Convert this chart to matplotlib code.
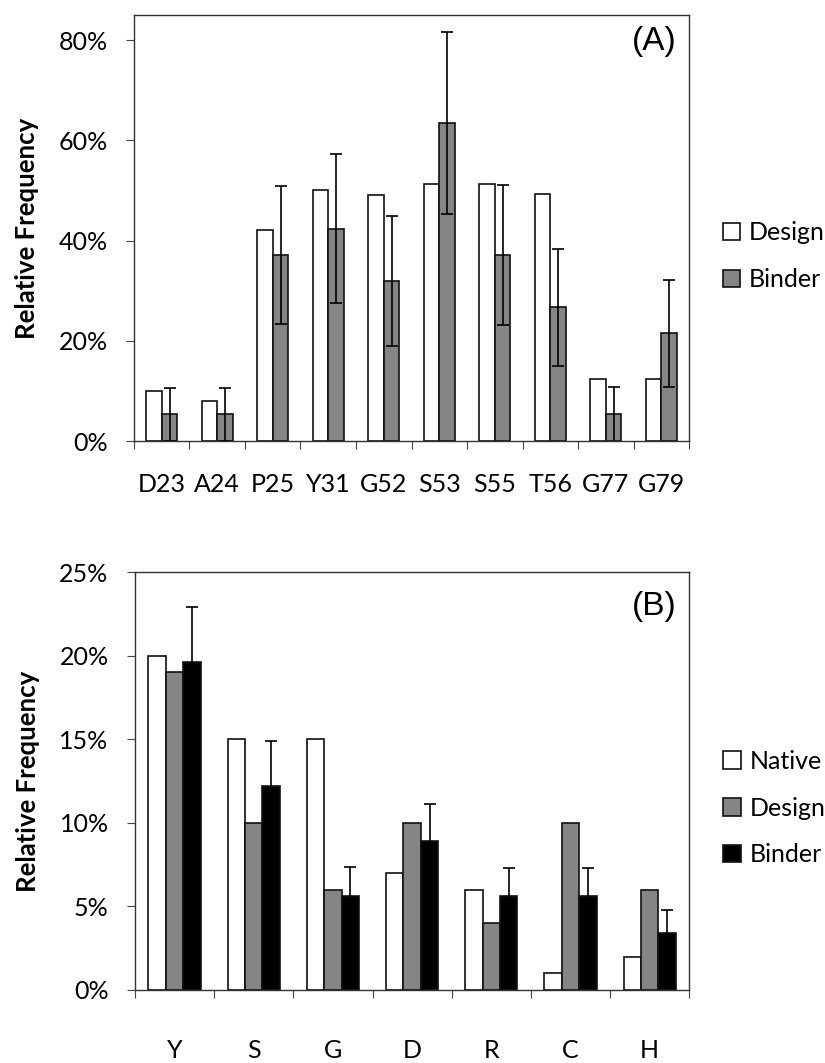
import numpy as np
import matplotlib
matplotlib.use("Agg")
import matplotlib.pyplot as plt
from matplotlib.ticker import FixedLocator, PercentFormatter

plt.rcParams["font.family"] = ["Lato", "DejaVu Sans"]

# ---- panel A: per-position frequencies
sites = ["D23", "A24", "P25", "Y31", "G52", "S53", "S55", "T56", "G77", "G79"]
a_design = [0.100, 0.080, 0.421, 0.501, 0.491, 0.513, 0.513, 0.493, 0.124, 0.124]
a_binder = [0.053, 0.053, 0.371, 0.424, 0.319, 0.634, 0.371, 0.267, 0.053, 0.215]
a_err = [0.052, 0.052, 0.138, 0.149, 0.129, 0.182, 0.140, 0.117, 0.055, 0.107]

# ---- panel B: amino-acid composition
residues = ["Y", "S", "G", "D", "R", "C", "H"]
b_native = [0.20, 0.15, 0.15, 0.07, 0.06, 0.01, 0.02]
b_design = [0.19, 0.10, 0.06, 0.10, 0.04, 0.10, 0.06]
b_binder = [0.196, 0.122, 0.056, 0.089, 0.056, 0.056, 0.034]
b_err = [0.033, 0.027, 0.0175, 0.0225, 0.017, 0.017, 0.014]

GRAY = "#858585"
EDGE = "#111111"
FS = 18

fig = plt.figure(figsize=(8.25, 10.63), dpi=100)
axA = fig.add_axes([0.1624, 0.5851, 0.6728, 0.4008])
axB = fig.add_axes([0.1636, 0.0687, 0.6719, 0.3932])


def style(ax, labels, ymax, ystep, xpad):
    n = len(labels)
    ax.set_xlim(-0.5, n - 0.5)
    ax.set_ylim(0, ymax)
    ax.set_xticks(range(n))
    ax.set_xticklabels(labels)
    ax.xaxis.set_minor_locator(FixedLocator(np.arange(-0.5, n, 1.0)))
    ax.tick_params(axis="x", which="major", length=0, pad=xpad, labelsize=FS)
    ax.tick_params(axis="x", which="minor", length=6, width=0.8, color="#444",
                   direction="out")
    ax.set_yticks(np.arange(0, ymax + 1e-9, ystep))
    ax.yaxis.set_major_formatter(PercentFormatter(1.0, decimals=0))
    ax.tick_params(axis="y", length=6, width=0.8, color="#444", pad=13,
                   labelsize=FS)
    for s in ax.spines.values():
        s.set_color("#333")
        s.set_linewidth(1.0)
    ax.set_ylabel("Relative Frequency", fontsize=18.5, fontweight="bold", labelpad=14)


leg_kw = dict(loc="center left", frameon=False, fontsize=FS, handlelength=0.7,
              handleheight=0.7, handletextpad=0.35, labelspacing=0.95,
              borderaxespad=0)

# panel A
x = np.arange(len(sites))
w = 0.28
ek = dict(ecolor="black", elinewidth=1.2, capsize=4.5, capthick=1.2)
axA.bar(x - w / 2, a_design, w, color="white", edgecolor=EDGE, lw=1.2, label="Design")
axA.bar(x + w / 2, a_binder, w, color=GRAY, edgecolor=EDGE, lw=1.2, label="Binder",
        yerr=a_err, error_kw=ek)
style(axA, sites, 0.85, 0.20, 23)
axA.text(0.978, 0.975, "(A)", transform=axA.transAxes, ha="right", va="top",
         fontsize=24, family="Liberation Sans")
axA.legend(bbox_to_anchor=(1.043, 0.434), **leg_kw)

# panel B
x = np.arange(len(residues))
w = 0.22
axB.bar(x - w, b_native, w, color="white", edgecolor=EDGE, lw=1.2, label="Native")
axB.bar(x, b_design, w, color=GRAY, edgecolor=EDGE, lw=1.2, label="Design")
axB.bar(x + w, b_binder, w, color="black", edgecolor=EDGE, lw=1.2, label="Binder",
        yerr=b_err, error_kw=ek)
style(axB, residues, 0.25, 0.05, 35)
axB.text(0.978, 0.955, "(B)", transform=axB.transAxes, ha="right", va="top",
         fontsize=24, family="Liberation Sans")
axB.legend(bbox_to_anchor=(1.043, 0.435), **leg_kw)

fig.savefig("out.png", dpi=100)
